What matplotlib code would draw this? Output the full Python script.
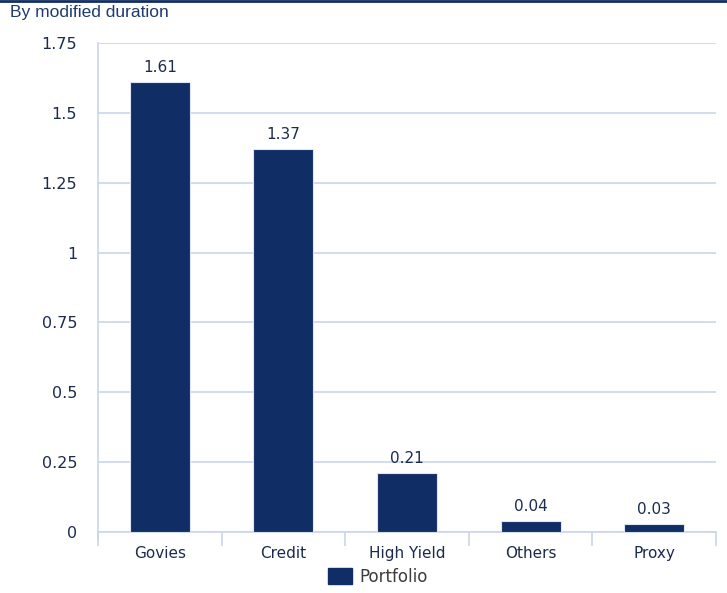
import matplotlib
matplotlib.use('Agg')
import numpy as np
from matplotlib import pyplot as plt
from matplotlib.patches import Patch

plt.rcParams['font.family'] = ['DejaVu Sans']

categories = ['Govies', 'Credit', 'High Yield', 'Others', 'Proxy']
portfolio = [1.61, 1.37, 0.21, 0.04, 0.03]
labels = ['1.61', '1.37', '0.21', '0.04', '0.03']
yticks = [0, 0.25, 0.5, 0.75, 1, 1.25, 1.5, 1.75]
ytick_labels = ['0', '0.25', '0.5', '0.75', '1', '1.25', '1.5', '1.75']

navy = '#112d66'
grid_c = '#c9d6e9'
text_c = '#1b2a4e'

fig = plt.figure(figsize=(7.27, 5.93), dpi=100)
ax = fig.add_axes([98/727, 1-532/593, (716-98)/727, (532-43)/593])

x = np.arange(len(categories))
ax.bar(x, portfolio, width=0.485, color=navy, edgecolor='#dfe6f0', linewidth=0.8, zorder=3)
for xi, v, t in zip(x, portfolio, labels):
    ax.annotate(t, (xi, v), xytext=(0, 5), textcoords='offset points',
                ha='center', va='bottom', fontsize=11, color=text_c, zorder=4)

ax.set_xlim(-0.5, len(categories) - 0.5)
ax.set_ylim(0, 1.75)
ax.set_yticks(yticks)
ax.set_yticklabels(ytick_labels)
ax.yaxis.grid(True, color=grid_c, linewidth=1.2, zorder=0)
ax.tick_params(axis='y', length=0, pad=15, labelsize=11.5, labelcolor=text_c)

# category ticks sit at the boundaries
ax.set_xticks(x)
ax.set_xticklabels(categories)
ax.set_xticks(np.arange(-0.5, len(categories)), minor=True)
ax.tick_params(axis='x', which='major', length=0, pad=10, labelsize=11, labelcolor=text_c)
ax.tick_params(axis='x', which='minor', length=10, width=1.2, color=grid_c)

for s in ['top', 'right']:
    ax.spines[s].set_visible(False)
ax.spines['bottom'].set_color(grid_c)
ax.spines['bottom'].set_linewidth(1.2)
ax.spines['left'].set_color(grid_c)
ax.spines['left'].set_linewidth(1.2)
ax.spines['left'].set_bounds(-0.02, 1.75)

# top rule and title
fig.add_artist(plt.Line2D([0, 1], [0.9985, 0.9985], color=navy, linewidth=2))
fig.text(10/727, 1-12/593, 'By modified duration', fontsize=12.5, color='#1f3a6e',
         family='Liberation Sans', va='center', ha='left')

fig.legend(handles=[Patch(color=navy, label='Portfolio')], loc='center',
           bbox_to_anchor=(378/727, 1-577/593), frameon=False, fontsize=12,
           handlelength=1.45, handleheight=1.1, handletextpad=0.42, labelcolor='#3c3c3c')

fig.savefig('out.png', dpi=100)
